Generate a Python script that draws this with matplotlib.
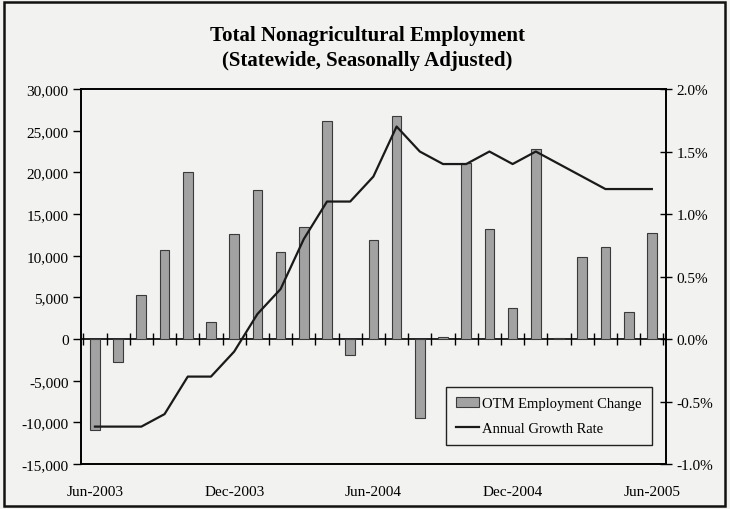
import numpy as np
import matplotlib.pyplot as plt
from matplotlib.patches import Rectangle
from matplotlib.ticker import FuncFormatter

plt.rcParams['font.family'] = ['Liberation Serif', 'DejaVu Serif']

# monthly data, Jun-2003 .. Jun-2005
months = ["Jun-2003", "Jul-2003", "Aug-2003", "Sep-2003", "Oct-2003", "Nov-2003",
          "Dec-2003", "Jan-2004", "Feb-2004", "Mar-2004", "Apr-2004", "May-2004",
          "Jun-2004", "Jul-2004", "Aug-2004", "Sep-2004", "Oct-2004", "Nov-2004",
          "Dec-2004", "Jan-2005", "Feb-2005", "Mar-2005", "Apr-2005", "May-2005",
          "Jun-2005"]
otm_change = [-10900, -2700, 5300, 10700, 20000, 2100,
              12600, 17900, 10500, 13400, 26200, -1900,
              11900, 26800, -9500, 200, 21100, 13200,
              3700, 22800, 100, 9800, 11100, 3300,
              12700]
growth_rate = [-0.7, -0.7, -0.7, -0.6, -0.3, -0.3,
               -0.1, 0.2, 0.4, 0.8, 1.1, 1.1,
               1.3, 1.7, 1.5, 1.4, 1.4, 1.5,
               1.4, 1.5, 1.4, 1.3, 1.2, 1.2,
               1.2]
label_months = ["Jun-2003", "Dec-2003", "Jun-2004", "Dec-2004", "Jun-2005"]

bg = '#f2f2f0'
fig = plt.figure(figsize=(7.3, 5.1), dpi=100, facecolor=bg)
ax = fig.add_axes([0.111, 0.088, 0.801, 0.7355])
ax.set_facecolor(bg)

x = np.arange(len(months))
bars = ax.bar(x, otm_change, width=0.42, color='#a2a2a2', edgecolor='#3a3a3a',
              linewidth=0.8, label='OTM Employment Change', zorder=2)

ylo, yhi = -15000, 30000
ax.set_ylim(ylo, yhi)
ax.set_xlim(-0.6, len(months) - 0.4)
ax.set_yticks(np.arange(ylo, yhi + 1, 5000))
ax.yaxis.set_major_formatter(FuncFormatter(lambda v, p: f"{int(v):,}"))
ax.tick_params(axis='y', direction='out', length=6, width=1, labelsize=11, pad=3)

lbl_pos = [months.index(m) for m in label_months]
ax.set_xticks(lbl_pos, labels=label_months)
ax.tick_params(axis='x', length=0, labelsize=11, pad=15)

# zero line with category-boundary ticks
zero_frac = (0 - ylo) / (yhi - ylo)
sec = ax.secondary_xaxis(zero_frac)
sec.set_xticks(np.arange(-0.5, len(months), 1), labels=[])
sec.tick_params(direction='inout', length=9, width=1)
sec.spines['bottom'].set_linewidth(1.2)

for s in ax.spines.values():
    s.set_linewidth(1.2)

ax2 = ax.twinx()
line, = ax2.plot(x, growth_rate, color='#1a1a1a', linewidth=1.6,
                 label='Annual Growth Rate', zorder=3)
ax2.set_ylim(-1.0, 2.0)
ax2.set_yticks(np.arange(-1.0, 2.01, 0.5))
ax2.yaxis.set_major_formatter(FuncFormatter(lambda v, p: f"{v:.1f}%"))
ax2.tick_params(axis='y', direction='inout', length=9, width=1, labelsize=11, pad=3)
for s in ax2.spines.values():
    s.set_linewidth(1.2)

leg = ax2.legend([bars, line], ['OTM Employment Change', 'Annual Growth Rate'],
                 loc='lower right', bbox_to_anchor=(0.976, 0.05), fontsize=10.5,
                 fancybox=False, framealpha=1, facecolor=bg, edgecolor='#222222',
                 handlelength=1.6, handletextpad=0.2, borderpad=0.7,
                 labelspacing=0.8, borderaxespad=0)
leg.get_frame().set_linewidth(1.0)

fig.text(0.503, 0.93, "Total Nonagricultural Employment", ha='center', va='center',
         fontsize=15, fontweight='bold')
fig.text(0.503, 0.88, "(Statewide, Seasonally Adjusted)", ha='center', va='center',
         fontsize=15, fontweight='bold')

fig.patches.append(Rectangle((0.005, 0.006), 0.988, 0.988, transform=fig.transFigure,
                             fill=False, edgecolor='#111111', linewidth=1.8))

fig.savefig('out.png', dpi=100, facecolor=bg)
